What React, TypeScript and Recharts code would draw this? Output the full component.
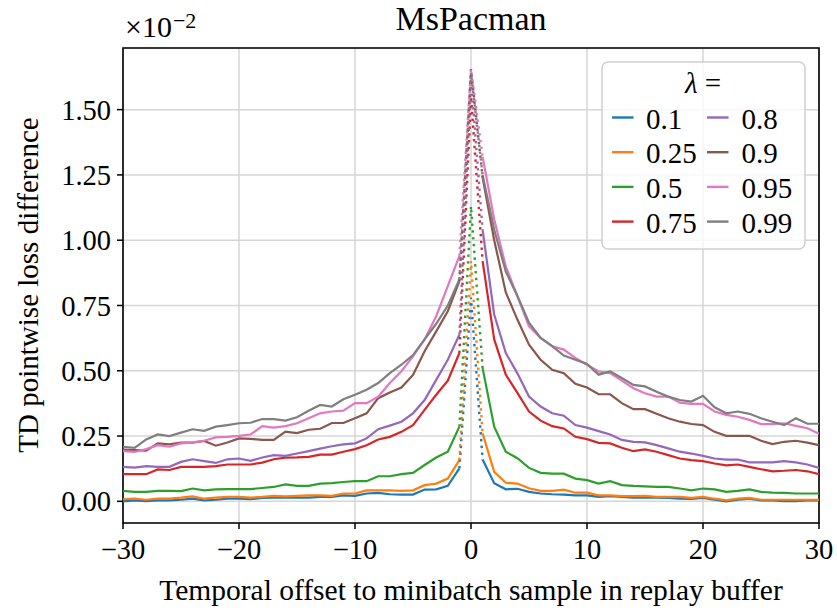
import React from "react";
import { LineChart, Line, XAxis, YAxis, CartesianGrid, ReferenceArea } from "recharts";

// values are in units of 1e-2
const lambdas = ["0.1", "0.25", "0.5", "0.75", "0.8", "0.9", "0.95", "0.99"];
const colors = ["#1f77b4", "#ff7f0e", "#2ca02c", "#d62728", "#9467bd", "#8c564b", "#e377c2", "#7f7f7f"];

const leftOffsets = Array.from({ length: 30 }, (_, i) => i - 30); // -30 .. -1
const rightOffsets = Array.from({ length: 30 }, (_, i) => i + 1); // 1 .. 30

// offsets -30 .. -1
const left01 = [0.0, 0.004, 0.001, 0.004, 0.004, 0.006, 0.01, 0.004, 0.006, 0.01, 0.01, 0.008, 0.013, 0.014, 0.014, 0.014, 0.014, 0.017, 0.017, 0.023, 0.021, 0.03, 0.032, 0.027, 0.026, 0.026, 0.045, 0.046, 0.059, 0.126];
const left025 = [0.008, 0.01, 0.006, 0.01, 0.01, 0.014, 0.019, 0.01, 0.014, 0.017, 0.017, 0.014, 0.017, 0.021, 0.019, 0.021, 0.023, 0.023, 0.021, 0.03, 0.03, 0.042, 0.042, 0.042, 0.04, 0.042, 0.062, 0.068, 0.087, 0.158];
const left05 = [0.04, 0.036, 0.036, 0.04, 0.04, 0.039, 0.049, 0.042, 0.046, 0.047, 0.047, 0.047, 0.051, 0.055, 0.065, 0.059, 0.059, 0.068, 0.07, 0.074, 0.077, 0.077, 0.096, 0.096, 0.104, 0.109, 0.139, 0.168, 0.19, 0.286];
const left075 = [0.104, 0.104, 0.104, 0.122, 0.12, 0.132, 0.132, 0.132, 0.135, 0.141, 0.141, 0.141, 0.148, 0.161, 0.167, 0.168, 0.17, 0.179, 0.179, 0.19, 0.2, 0.215, 0.237, 0.247, 0.266, 0.292, 0.35, 0.408, 0.462, 0.568];
const left08 = [0.132, 0.129, 0.135, 0.132, 0.132, 0.151, 0.161, 0.154, 0.147, 0.161, 0.164, 0.155, 0.168, 0.177, 0.174, 0.183, 0.192, 0.202, 0.211, 0.218, 0.222, 0.241, 0.276, 0.29, 0.305, 0.337, 0.388, 0.465, 0.542, 0.638];
const left09 = [0.198, 0.196, 0.194, 0.222, 0.218, 0.225, 0.225, 0.231, 0.213, 0.225, 0.241, 0.239, 0.235, 0.235, 0.267, 0.261, 0.274, 0.278, 0.3, 0.3, 0.318, 0.337, 0.395, 0.417, 0.436, 0.484, 0.575, 0.651, 0.728, 0.843];
const left095 = [0.192, 0.189, 0.2, 0.215, 0.209, 0.222, 0.226, 0.232, 0.245, 0.247, 0.251, 0.256, 0.288, 0.282, 0.288, 0.299, 0.318, 0.337, 0.344, 0.347, 0.376, 0.376, 0.401, 0.453, 0.498, 0.555, 0.62, 0.709, 0.824, 0.94];
const left099 = [0.209, 0.205, 0.237, 0.256, 0.25, 0.263, 0.276, 0.27, 0.286, 0.292, 0.299, 0.301, 0.315, 0.315, 0.309, 0.322, 0.347, 0.369, 0.363, 0.391, 0.408, 0.427, 0.453, 0.491, 0.523, 0.56, 0.62, 0.68, 0.75, 0.85];

// offsets 1 .. 30
const right01 = [0.16, 0.069, 0.046, 0.048, 0.036, 0.03, 0.027, 0.026, 0.023, 0.023, 0.017, 0.02, 0.017, 0.014, 0.014, 0.014, 0.013, 0.01, 0.009, 0.013, 0.006, 0.0, 0.006, 0.01, 0.004, 0.004, 0.001, 0.001, 0.004, 0.004];
const right025 = [0.26, 0.113, 0.071, 0.068, 0.05, 0.04, 0.04, 0.045, 0.033, 0.033, 0.023, 0.023, 0.02, 0.02, 0.021, 0.017, 0.017, 0.017, 0.013, 0.017, 0.01, 0.004, 0.01, 0.013, 0.006, 0.006, 0.006, 0.006, 0.006, 0.006];
const right05 = [0.51, 0.286, 0.19, 0.165, 0.128, 0.109, 0.106, 0.106, 0.087, 0.081, 0.068, 0.077, 0.062, 0.059, 0.057, 0.055, 0.055, 0.049, 0.042, 0.049, 0.046, 0.036, 0.04, 0.046, 0.036, 0.033, 0.032, 0.03, 0.03, 0.03];
const right075 = [0.92, 0.62, 0.485, 0.415, 0.344, 0.309, 0.288, 0.279, 0.247, 0.238, 0.224, 0.222, 0.205, 0.192, 0.199, 0.19, 0.177, 0.164, 0.158, 0.154, 0.145, 0.138, 0.141, 0.132, 0.123, 0.115, 0.117, 0.12, 0.115, 0.104];
const right08 = [1.04, 0.715, 0.568, 0.49, 0.401, 0.363, 0.337, 0.328, 0.292, 0.282, 0.269, 0.256, 0.235, 0.228, 0.226, 0.215, 0.203, 0.19, 0.183, 0.174, 0.164, 0.16, 0.16, 0.149, 0.149, 0.149, 0.154, 0.149, 0.141, 0.128];
const right09 = [1.24, 1.0, 0.8, 0.696, 0.6, 0.542, 0.504, 0.491, 0.45, 0.436, 0.41, 0.41, 0.376, 0.353, 0.353, 0.335, 0.318, 0.305, 0.296, 0.292, 0.266, 0.251, 0.251, 0.251, 0.232, 0.219, 0.228, 0.232, 0.225, 0.215];
const right095 = [1.32, 1.08, 0.9, 0.786, 0.67, 0.626, 0.594, 0.581, 0.549, 0.523, 0.497, 0.491, 0.462, 0.433, 0.414, 0.401, 0.401, 0.378, 0.373, 0.373, 0.344, 0.331, 0.324, 0.312, 0.296, 0.296, 0.299, 0.289, 0.28, 0.259];
const right099 = [1.25, 1.04, 0.88, 0.786, 0.684, 0.626, 0.594, 0.558, 0.542, 0.526, 0.485, 0.497, 0.472, 0.446, 0.44, 0.42, 0.401, 0.388, 0.382, 0.404, 0.36, 0.337, 0.344, 0.335, 0.318, 0.305, 0.292, 0.318, 0.297, 0.297];

// value at offset 0
const peaks = [0.78, 0.92, 1.13, 1.55, 1.62, 1.655, 1.655, 1.64];

const lefts = [left01, left025, left05, left075, left08, left09, left095, left099];
const rights = [right01, right025, right05, right075, right08, right09, right095, right099];

const xTicks = [-30, -20, -10, 0, 10, 20, 30];
const yTicks = [0, 0.25, 0.5, 0.75, 1.0, 1.25, 1.5];

const data: any[] = [];
leftOffsets.forEach((x, i) => {
  const row: any = { x };
  lambdas.forEach((_, s) => {
    row[`s${s}`] = lefts[s][i];
    row[`d${s}`] = x === -1 ? lefts[s][i] : null;
  });
  data.push(row);
});
{
  const row: any = { x: 0 };
  lambdas.forEach((_, s) => {
    row[`s${s}`] = null;
    row[`d${s}`] = peaks[s];
  });
  data.push(row);
}
rightOffsets.forEach((x, i) => {
  const row: any = { x };
  lambdas.forEach((_, s) => {
    row[`s${s}`] = rights[s][i];
    row[`d${s}`] = x === 1 ? rights[s][i] : null;
  });
  data.push(row);
});

const FONT = "'Liberation Serif', 'Times New Roman', serif";
const fmtX = (v: number) => (v < 0 ? `\u2212${Math.abs(v)}` : `${v}`);

const Overlay = () => (
  <svg
    width={837}
    height={611}
    style={{ position: "absolute", left: 0, top: 0, pointerEvents: "none" }}
    fontFamily={FONT}
  >
    <text x={471} y={29.5} textAnchor='middle' fontSize={34} fill='#000'>
      MsPacman
    </text>
    <text x={125} y={37} fontSize={30} fill='#000'>
      ×10
      <tspan dx={1} dy={-9.5} fontSize={22}>
        {"\u22122"}
      </tspan>
    </text>
    <text
      x={38}
      y={285}
      transform='rotate(-90 38 285)'
      textAnchor='middle'
      fontSize={29}
      fill='#000'
    >
      TD pointwise loss difference
    </text>
    <text x={471} y={600} textAnchor='middle' fontSize={29.5} fill='#000'>
      Temporal offset to minibatch sample in replay buffer
    </text>

    {/* legend */}
    <rect
      x={602}
      y={62}
      width={203}
      height={187}
      rx={6}
      fill='#fff'
      fillOpacity={0.8}
      stroke='#d0d0d0'
      strokeWidth={1.5}
    />
    <text x={703} y={93} textAnchor='middle' fontSize={29} fill='#000'>
      <tspan fontStyle='italic'>λ</tspan> =
    </text>
    {lambdas.map((lam, i) => {
      const col = Math.floor(i / 4);
      const row = i % 4;
      const hx = col === 0 ? 612 : 707;
      const lx = col === 0 ? 646 : 741.5;
      const cy = 117.5 + row * 34.7;
      return (
        <g key={lam}>
          <line x1={hx} x2={hx + 21.5} y1={cy} y2={cy} stroke={colors[i]} strokeWidth={2.4} />
          <text x={lx} y={cy + 11} fontSize={29} fill='#000'>
            {lam}
          </text>
        </g>
      );
    })}
  </svg>
);

const App = () => {
  return (
    <div style={{ position: "absolute", left: 0, top: 0, width: 837, height: 611, background: "#fff" }}>
      <LineChart
        width={837}
        height={611}
        data={data}
        margin={{ top: 48, right: 18, left: 0, bottom: 0 }}
      >
        <CartesianGrid stroke='#d6d6d6' strokeWidth={1.5} />
        <XAxis
          dataKey='x'
          type='number'
          domain={[-30, 30]}
          ticks={xTicks}
          tickFormatter={fmtX}
          height={88}
          axisLine={false}
          tickLine={{ stroke: "#000", strokeWidth: 1.5 }}
          tickSize={6}
          tickMargin={10}
          tick={{ fontSize: 28.5, fill: "#000", fontFamily: FONT }}
          allowDataOverflow
        />
        <YAxis
          type='number'
          domain={[-0.083, 1.736]}
          ticks={yTicks}
          tickFormatter={(v: number) => v.toFixed(2)}
          width={123}
          axisLine={false}
          tickLine={{ stroke: "#000", strokeWidth: 1.5 }}
          tickSize={6}
          tickMargin={6}
          tick={{ fontSize: 28.5, fill: "#000", fontFamily: FONT }}
          allowDataOverflow
        />
        {lambdas.map((lam, s) => (
          <Line
            key={`s${s}`}
            type='linear'
            dataKey={`s${s}`}
            name={lam}
            stroke={colors[s]}
            strokeWidth={2.2}
            dot={false}
            activeDot={false}
            connectNulls={false}
            isAnimationActive={false}
          />
        ))}
        {lambdas.map((lam, s) => (
          <Line
            key={`d${s}`}
            type='linear'
            dataKey={`d${s}`}
            name={`${lam} (dotted)`}
            stroke={colors[s]}
            strokeWidth={2.4}
            strokeDasharray='2.4 4.4'
            dot={false}
            activeDot={false}
            connectNulls={false}
            isAnimationActive={false}
          />
        ))}
        <ReferenceArea
          x1={-30}
          x2={30}
          y1={-0.083}
          y2={1.736}
          fill='none'
          stroke='#000'
          strokeWidth={1.6}
          ifOverflow='visible'
        />
      </LineChart>
      <Overlay />
    </div>
  );
};

export default App;
